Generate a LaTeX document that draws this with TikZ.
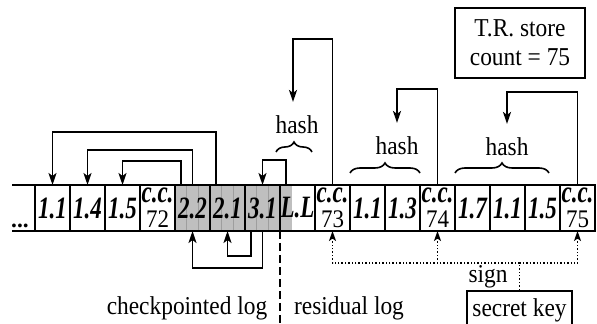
\documentclass[tikz,border=0pt]{standalone}
\usepackage{fontspec}
\usepackage{graphicx}
\setmainfont{Liberation Serif}
\usetikzlibrary{backgrounds,positioning,arrows.meta,calc,decorations.pathreplacing}

% tall glyphs, as in the scanned figure
\newcommand{\entry}[1]{\scalebox{1}[1.35]{#1}}
\newcommand{\lbl}[1]{\scalebox{1}[1.1]{#1}}
\newcommand{\ccno}[1]{{\normalfont\fontsize{11.5}{12}\selectfont\lbl{#1}}}

\begin{document}
\begin{tikzpicture}[
    x=0.5pt, y=-0.5pt,
    every node/.style={font=\fontsize{11.7}{13}\selectfont},
    cell/.style={draw, rectangle, line width=1pt, minimum width=17.5pt, minimum height=23pt,
                 inner sep=0pt, outer sep=0pt, align=center,
                 font=\fontsize{11.5}{13}\selectfont\bfseries\itshape},
    box/.style={draw, line width=1pt, align=center, inner sep=0pt},
    hashlbl/.style={inner sep=1pt, outer sep=6pt},
    link/.style={line width=0.9pt, -{Stealth[length=6pt,width=4pt,inset=1.5pt]}},
    signlink/.style={densely dotted, line width=0.7pt, -{Stealth[length=5pt,width=3.5pt,inset=1.2pt]}},
    signline/.style={densely dotted, line width=0.7pt},
    hbrace/.style={decorate, decoration={brace, amplitude=5pt}, line width=0.8pt},
    logfill/.style={fill=black!25},
    stripe/.style={draw=black!38, line width=0.5pt},
    strip/.style={line width=1pt}
]
\useasboundingbox (0,0) rectangle (597,324);

% Log entries
\node[cell] (c1) at (52.5,208) {\entry{1.1}};
\node[cell] (c2) at (87.5,208) {\entry{1.4}};
\node[cell] (c3) at (122.5,208) {\entry{1.5}};
\node[cell] (c4) at (157.5,208) {\entry{c.c.}\\[-0.5pt]\ccno{72}};
\node[cell] (c5) at (192.5,208) {\entry{2.2}};
\node[cell] (c6) at (227.5,208) {\entry{2.1}};
\node[cell] (c7) at (262.5,208) {\entry{3.1}};
\node[cell] (c8) at (297.5,208) {\entry{L.L}};
\node[cell] (c9) at (332.5,208) {\entry{c.c.}\\[-0.5pt]\ccno{73}};
\node[cell] (c10) at (367.5,208) {\entry{1.1}};
\node[cell] (c11) at (402.5,208) {\entry{1.3}};
\node[cell] (c12) at (437.5,208) {\entry{c.c.}\\[-0.5pt]\ccno{74}};
\node[cell] (c13) at (472.5,208) {\entry{1.7}};
\node[cell] (c14) at (507.5,208) {\entry{1.1}};
\node[cell] (c15) at (542.5,208) {\entry{1.5}};
\node[cell] (c16) at (577.5,208) {\entry{c.c.}\\[-0.5pt]\ccno{75}};

% Earlier part of the log
\coordinate (lend) at (12,208);
\node[anchor=base] (dots) at (20,228) {\textbf{...}};
\draw[strip] (lend |- c1.north) -- (c1.north west);
\draw[strip] (lend |- c1.south) -- (c1.south west);

% Checkpointed entries, shaded
\begin{scope}[on background layer]
\fill[logfill] (c5.north west) rectangle ([xshift=6pt]c8.south west);
\draw[stripe] ([xshift=5.83pt]c5.north west) -- ([xshift=5.83pt]c5.south west);
\draw[stripe] ([xshift=11.67pt]c5.north west) -- ([xshift=11.67pt]c5.south west);
\draw[stripe] ([xshift=5.83pt]c6.north west) -- ([xshift=5.83pt]c6.south west);
\draw[stripe] ([xshift=11.67pt]c6.north west) -- ([xshift=11.67pt]c6.south west);
\draw[stripe] ([xshift=5.83pt]c7.north west) -- ([xshift=5.83pt]c7.south west);
\draw[stripe] ([xshift=11.67pt]c7.north west) -- ([xshift=11.67pt]c7.south west);
\end{scope}

% Back pointers above the log
\draw[link] ([xshift=2.9pt]c6.north west) -- ++(0,-53) -| (c1.north);
\draw[link] ([xshift=8.75pt]c5.north west) -- ++(0,-35) -| (c2.north);
\draw[link] ([xshift=2.9pt]c5.north west) -- ++(0,-24) -| (c3.north);
\draw[link] ([xshift=2.9pt]c8.north west) -- ++(0,-25) -| (c7.north);

% Back pointers below the log
\draw[link] ([xshift=8.75pt]c7.south west) -- ++(0,37) -| (c5.south);
\draw[link] ([xshift=2.9pt]c7.south west) -- ++(0,25) -| (c6.south);

% Hash chains
\node[hashlbl] (hash1) at (297,125) {\lbl{hash}};
\node[hashlbl] (hash2) at (397,146) {\lbl{hash}};
\node[hashlbl] (hash3) at (507,147) {\lbl{hash}};
\draw[hbrace] ([xshift=-2pt,yshift=16.5pt]c8.north west) -- ([xshift=-1.5pt,yshift=16.5pt]c8.north east);
\draw[hbrace] ([yshift=6pt]c10.north west) -- ([yshift=6pt]c11.north east);
\draw[hbrace] ([yshift=6pt]c13.north west) -- ([xshift=-5.5pt,yshift=6pt]c15.north east);
\draw[link] (c9.north) -- ++(0,-146) -| ([xshift=-2pt]hash1.north);
\draw[link] (c12.north) -- ++(0,-96) -| (hash2.north);
\draw[link] (c16.north) -- ++(0,-93) -| (hash3.north);

% Tamper-resistant store
\node[box, minimum width=65pt, minimum height=35pt, font=\fontsize{11.7}{14.5}\selectfont] (store) at (520,43) {\lbl{T.R. store}\\\lbl{count = 75}};

% Signing the commit records
\node[box, minimum width=52.5pt, minimum height=19pt] (key) at (519.5,310) {\lbl{secret key}};
\coordinate (sig) at ($(key.north)+(0,-27)$);
\node (signlbl) at (488,277) {\lbl{sign}};
\draw[signline] (key.north) -- (sig);
\draw[signlink] (sig) -| (c9.south);
\draw[signlink] (sig) -| (c16.south);
\draw[signlink] (sig -| c12.south) -- (c12.south);

% Checkpoint boundary
\draw[dashed, dash pattern=on 4pt off 2pt, line width=0.6pt] (c8.south west) -- ++(0,95);
\node (ckpt) at (187,308) {\lbl{checkpointed log}};
\node (resid) at (349,308) {\lbl{residual log}};

\end{tikzpicture}
\end{document}
